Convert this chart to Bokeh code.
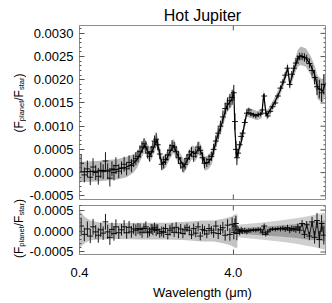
import numpy as np
from bokeh.plotting import figure
from bokeh.models import (Range1d, FixedTicker, SingleIntervalTicker,
                          PrintfTickFormatter)
from bokeh.core.properties import value
from bokeh.layouts import column, row
from bokeh.embed import file_html
from bokeh.resources import INLINE

# ---------------- data ----------------
title_text = "Hot Jupiter"
x_label = "Wavelength (\u03bcm)"
x_ticks = [0.4, 4.0]
y_ticks_top = [-0.0005, 0.0, 0.0005, 0.0010, 0.0015, 0.0020, 0.0025, 0.0030]
y_ticks_res = [-0.0005, 0.0, 0.0005]
ylabel_main = ["(F", "/F", ")"]
ylabel_sub = ["planet", "star"]

# best-fit model spectrum (planet/star flux ratio)
model_wl = [0.40, 0.45, 0.52, 0.60, 0.70, 0.81, 0.90, 0.95, 1.00, 1.06,
            1.10, 1.15, 1.20, 1.27, 1.32, 1.37, 1.45, 1.55, 1.64, 1.75,
            1.91, 2.02, 2.15, 2.27, 2.39, 2.50, 2.61, 2.75, 2.90, 3.13,
            3.37, 3.63, 3.91, 4.03, 4.10, 4.21, 4.35, 4.54, 4.70, 4.90,
            5.28, 5.69, 6.13, 6.31, 6.45, 6.60, 7.33, 8.02, 8.64, 9.04,
            9.31, 10.03, 10.49, 10.97, 11.83, 12.75, 13.53, 14.15, 15.25, 15.95]
model_flux = [0.00001, 0.00002, 0.00003, 0.00005, 0.00007, 0.00012, 0.0002, 0.00029, 0.00042, 0.0006,
              0.00048, 0.00037, 0.0005, 0.00071, 0.00045, 0.00019, 0.00025, 0.00045, 0.00058, 0.00035,
              0.00013, 0.00028, 0.00044, 0.0004, 0.00054, 0.0004, 0.00019, 0.00022, 0.00033, 0.00075,
              0.00106, 0.00144, 0.00158, 0.00175, 0.0009, 0.00033, 0.0005, 0.0007, 0.001, 0.0013,
              0.00127, 0.00123, 0.00127, 0.00169, 0.0014, 0.00123, 0.00148, 0.00175, 0.00204, 0.00225,
              0.0019, 0.00227, 0.00246, 0.00252, 0.00248, 0.00231, 0.0021, 0.00183, 0.00175, 0.00194]
model_sigma = [0.00022, 0.00022, 0.00022, 0.00022, 0.00022, 0.00022, 0.0002, 0.00018, 0.00015, 0.00015,
               0.00015, 0.00015, 0.00015, 0.00015, 0.00015, 0.00015, 0.00015, 0.00015, 0.00015, 0.00015,
               0.00015, 0.00015, 0.00015, 0.00015, 0.00015, 0.00015, 0.00015, 0.00015, 0.00015, 0.00015,
               0.00015, 0.00015, 0.00015, 0.00015, 0.00015, 0.00015, 0.00012, 0.0001, 0.0001, 0.0001,
               0.0001, 0.0001, 0.0001, 0.0001, 0.0001, 0.0001, 0.0001, 0.0001, 0.00011, 0.00012,
               0.00012, 0.00015, 0.00018, 0.0002, 0.0002, 0.0002, 0.0002, 0.00025, 0.00025, 0.00025]

# observations, short-wavelength part (dense)
obs_wl_a = [0.41, 0.43, 0.45, 0.47, 0.49, 0.51, 0.53, 0.55, 0.57, 0.59,
            0.61, 0.63, 0.65, 0.67, 0.69, 0.72, 0.75, 0.78, 0.81, 0.84,
            0.87, 0.90, 0.93, 0.96, 0.99, 1.02, 1.05, 1.08, 1.11, 1.14,
            1.17, 1.20, 1.23, 1.26, 1.29, 1.33, 1.37, 1.41, 1.45, 1.50,
            1.55, 1.60, 1.65, 1.70, 1.76, 1.82, 1.88, 1.94, 2.00, 2.07,
            2.14, 2.21, 2.28, 2.36, 2.44, 2.52, 2.60, 2.69, 2.78, 2.88,
            2.98, 3.08, 3.19, 3.30, 3.42, 3.54, 3.67, 3.80, 3.93, 4.03,
            4.10, 4.16, 4.22]
obs_flux_a = [0.0002, -0.00005, 0.00008, -0.0001, 0.00012, 0.0, -0.00008, 0.00005, 0.00002, 0.00025,
              0.00003, -0.00012, 0.00008, 0.0, 0.00015, 0.00003, 0.0001, 0.00018, 0.00008, 0.00022,
              0.00015, 0.00025, 0.0003, 0.00035, 0.00045, 0.00055, 0.00062, 0.00055, 0.00042, 0.00035,
              0.00045, 0.00055, 0.00068, 0.00072, 0.0006, 0.0004, 0.00018, 0.00022, 0.00028, 0.00038,
              0.00048, 0.00058, 0.00055, 0.00045, 0.00032, 0.0002, 0.00012, 0.00018, 0.0003, 0.00038,
              0.00045, 0.00035, 0.00042, 0.00055, 0.00048, 0.00032, 0.0002, 0.00022, 0.00028, 0.00035,
              0.0005, 0.00068, 0.00085, 0.001, 0.0012, 0.00138, 0.00148, 0.00155, 0.00162, 0.00172,
              0.0011, 0.0005, 0.00032]
obs_err_a = [0.0002, 0.00016, 0.00018, 0.00017, 0.00019, 0.00016, 0.00018, 0.00017, 0.00016, 0.00019,
             0.00017, 0.00018, 0.00016, 0.00017, 0.00018, 0.00015, 0.00014, 0.00016, 0.00014, 0.00015,
             0.00014, 0.00013, 0.00014, 0.00013, 0.00014, 0.00013, 0.00012, 0.00013, 0.00012, 0.00011,
             0.00012, 0.00013, 0.00012, 0.00014, 0.00012, 0.00011, 0.00012, 0.00013, 0.00011, 0.00012,
             0.00013, 0.00012, 0.00011, 0.00012, 0.00013, 0.00012, 0.00011, 0.00012, 0.0001, 0.00011,
             0.0001, 0.00012, 0.0001, 0.00011, 0.0001, 0.00012, 0.00011, 0.0001, 0.00011, 0.0001,
             0.00012, 0.00012, 0.00013, 0.00012, 0.00014, 0.00013, 0.00014, 0.00015, 0.00016, 0.00017,
             0.00018, 0.00018, 0.00016]
res_a = [0.00012, -0.00008, 0.00005, -0.00012, 0.0001, -0.00002, -0.0001, 0.00003, -0.00005, 0.00022,
         -0.00002, -0.00015, 0.00004, -0.00006, 0.0001, -0.00004, 0.00003, 0.0001, -0.00004, 0.00009,
         -0.00002, 0.00005, 0.00002, 0.00006, 0.00004, -0.00003, 0.00006, 0.0001, -0.00004, -0.00002,
         0.00005, 0.00003, 0.00008, 0.00002, 0.00004, -0.00005, -0.00001, -0.00003, 0.00006, -0.00008,
         0.00002, 0.00007, -0.00003, 0.00009, -0.00004, 0.00005, -0.00006, 0.00003, 0.00008, 0.00002,
         -0.00009, 0.00006, -0.00005, 0.0001, -0.00012, 0.00004, 0.00001, -0.00007, 0.00006, 0.00002,
         -0.00004, 0.00012, -0.00006, 0.00003, 0.00008, -0.0001, 0.00014, -0.00008, 0.00016, -0.00003,
         0.00012, 0.00018, -0.00006]

# observations, long-wavelength part (sparser)
obs_wl_b = [4.30, 4.40, 4.50, 4.60, 4.75, 4.90, 5.05, 5.20, 5.40, 5.60,
            5.80, 6.00, 6.20, 6.35, 6.50, 6.70, 6.95, 7.20, 7.50, 7.80,
            8.10, 8.40, 8.70, 9.00, 9.30, 9.60, 9.90, 10.2, 10.5, 10.8,
            11.2, 11.6, 12.0, 12.5, 13.0, 13.5, 14.0, 14.5, 15.0, 15.5]
obs_flux_b = [0.00042, 0.0006, 0.00078, 0.00085, 0.00108, 0.00128, 0.00135, 0.00126, 0.00124, 0.00122,
              0.00125, 0.00126, 0.00135, 0.00165, 0.00128, 0.00122, 0.00132, 0.00142, 0.0015, 0.00165,
              0.00182, 0.00195, 0.0021, 0.00225, 0.0019, 0.00212, 0.00225, 0.00236, 0.00245, 0.0025,
              0.0025, 0.00248, 0.00245, 0.00235, 0.0022, 0.00205, 0.00185, 0.0018, 0.00172, 0.0019]
obs_err_b = [0.00008, 0.00008, 0.00008, 0.00007, 0.00007, 0.00006, 0.00005, 0.00005, 0.00005, 0.00005,
             0.00005, 0.00005, 0.00006, 0.00006, 0.00005, 0.00005, 0.00005, 0.00005, 0.00005, 0.00005,
             0.00006, 0.00006, 0.00006, 0.00007, 0.00007, 0.00007, 0.00007, 0.00007, 0.00008, 0.00008,
             0.00008, 0.00009, 0.00009, 0.0001, 0.00012, 0.00015, 0.00018, 0.0002, 0.0002, 0.00022]
res_b = [0.00003, -0.00002, 0.00002, 0.0, 0.00001, -0.00002, 0.00002, 0.00001, 0.00003, 0.00002,
         0.00004, 0.00003, -0.00004, 0.00012, -0.00008, -0.00002, 0.00003, 0.00005, 0.00004, 0.00006,
         0.00005, 0.00007, 0.00004, 0.00008, 0.00002, 0.00006, 0.00005, 0.00003, 0.0001, 0.00002,
         0.00018, -0.00008, 0.00015, -0.00012, 0.00022, -0.00015, 0.00025, -0.0002, 0.00018, -0.0001]

# residual-panel uncertainty envelopes
env_wl_a = [0.40, 0.43, 0.47, 0.55, 0.70, 1.0, 1.5, 2.0, 2.5, 3.0, 3.5, 3.9, 4.1, 4.25]
env_hi_a = [0.0005, 0.00035, 0.00025, 0.0002, 0.00019, 0.0002, 0.0002, 0.00022, 0.00025, 0.00025,
            0.0003, 0.00035, 0.0004, 0.0004]
env_lo_a = [-0.0004, -0.0003, -0.00022, -0.0002, -0.00019, -0.0002, -0.0002, -0.00022, -0.00025,
            -0.00025, -0.0003, -0.00035, -0.0004, -0.0004]
env_wl_b = [4.25, 6.0, 8.0, 10.0, 12.0, 14.0, 15.95]
env_wide_b = [0.00015, 0.0002, 0.00025, 0.0003, 0.00035, 0.0004, 0.00045]
env_narrow_b = [0.00006, 0.0001, 0.00013, 0.00016, 0.0002, 0.00022, 0.00025]

# ---------------- layout constants (pixels) ----------------
FONT = "Liberation Sans"
STRIP_W = 26
FRAME_LEFT = 78
BORDER_R = 4
FRAME_TOP = 25
FRAME_W = 246
FH1, FH2 = 174, 49
XR = (0.4, 15.9)
YR1 = (-0.00058, 0.00317)
YR2 = (-0.00056, 0.00061)
TICK_IN, MINOR_IN = 5, 2
TOTAL_H = 303
AXIS_COL = "#555555"
FRAME_COL = "#8c8c8c"


def style_axis(ax):
    ax.axis_line_color = FRAME_COL
    ax.major_tick_line_color = AXIS_COL
    ax.minor_tick_line_color = AXIS_COL
    ax.major_tick_in = TICK_IN
    ax.major_tick_out = 0
    ax.minor_tick_in = MINOR_IN
    ax.minor_tick_out = 0
    ax.major_label_text_font = FONT
    ax.major_label_text_font_size = "13px"
    ax.major_label_text_color = "black"


def crosses(p, wl, val, err, hw=1.045, color="black", width=1.0, alpha=0.9):
    wl = np.asarray(wl)
    val = np.asarray(val)
    err = np.asarray(err)
    p.segment(x0=wl, y0=val - err, x1=wl, y1=val + err, line_color=color,
              line_width=width, line_alpha=alpha)
    p.segment(x0=wl / hw, y0=val, x1=wl * hw, y1=val, line_color=color,
              line_width=width, line_alpha=alpha)


def x_edge_ticks(p, yr, fh, top=True, bottom=True):
    tl = TICK_IN * (yr[1] - yr[0]) / fh
    xs, y0s, y1s = [], [], []
    for t in x_ticks[1:]:
        if top:
            xs.append(t); y0s.append(yr[1]); y1s.append(yr[1] - tl)
        if bottom:
            xs.append(t); y0s.append(yr[0]); y1s.append(yr[0] + tl)
    p.segment(x0=xs, x1=xs, y0=y0s, y1=y1s, line_color=AXIS_COL, line_width=1)


def right_edge_ticks(p, ticks, yr):
    px_per_dec = FRAME_W / np.log10(XR[1] / XR[0])
    ys, xin = [], []
    step = ticks[1] - ticks[0]
    for t in ticks:
        ys.append(t); xin.append(XR[1] / 10 ** (TICK_IN / px_per_dec))
    for t in [ticks[0] - step] + list(ticks):
        for k in range(1, 5):
            v = t + k * step / 5
            if yr[0] < v < yr[1]:
                ys.append(v); xin.append(XR[1] / 10 ** (MINOR_IN / px_per_dec))
    p.segment(x0=[XR[1]] * len(ys), x1=xin, y0=ys, y1=ys, line_color=AXIS_COL, line_width=1)


def make_panel(yr, fh, border_top, border_bottom):
    p = figure(x_axis_type="log", x_range=Range1d(*XR), y_range=Range1d(*yr),
               frame_width=FRAME_W, frame_height=fh, min_border_left=FRAME_LEFT - STRIP_W,
               min_border_right=BORDER_R, min_border_top=border_top,
               min_border_bottom=border_bottom, output_backend="svg",
               toolbar_location=None)
    p.outline_line_color = FRAME_COL
    p.grid.visible = False
    p.yaxis.ticker = SingleIntervalTicker(interval=0.0005, num_minor_ticks=5)
    p.yaxis.formatter = PrintfTickFormatter(format="%.4f")
    for ax in p.axis:
        style_axis(ax)
    p.yaxis.major_label_standoff = 6
    return p


# ---------------- top panel ----------------
p1 = make_panel(YR1, FH1, FRAME_TOP, 3)
p1.title.text = title_text
p1.title.align = "center"
p1.title.text_font = FONT
p1.title.text_font_size = "16px"
p1.title.text_font_style = "normal"
p1.title.text_color = "black"
p1.title.standoff = 4
p1.title.offset = 0
p1.xaxis.visible = False
x_edge_ticks(p1, YR1, FH1)
right_edge_ticks(p1, y_ticks_top, YR1)

mw = np.asarray(model_wl)
mf = np.asarray(model_flux)
ms = np.asarray(model_sigma)
p1.varea(x=mw, y1=mf - ms, y2=mf + ms, fill_color="#b8b8b8", fill_alpha=1.0)
crosses(p1, obs_wl_a, obs_flux_a, obs_err_a)
crosses(p1, obs_wl_b, obs_flux_b, obs_err_b)
p1.line(mw, mf, line_color="black", line_width=1.2)

# ---------------- residual panel ----------------
p2 = make_panel(YR2, FH2, 3, 10)
p2.xaxis.ticker = FixedTicker(ticks=x_ticks)
p2.xaxis.formatter = PrintfTickFormatter(format="%.1f")
p2.xaxis.axis_label = x_label
p2.xaxis.major_label_standoff = 13
p2.xaxis.axis_label_standoff = 5
p2.xaxis.axis_label_text_font = FONT
p2.xaxis.axis_label_text_font_size = "13px"
p2.xaxis.axis_label_text_font_style = "normal"
p2.xaxis.axis_label_text_color = "black"
x_edge_ticks(p2, YR2, FH2, top=True, bottom=False)
right_edge_ticks(p2, y_ticks_res, YR2)

p2.varea(x=env_wl_a, y1=env_lo_a, y2=env_hi_a, fill_color="#c4c4c4")
ew = np.asarray(env_wide_b)
en = np.asarray(env_narrow_b)
p2.varea(x=env_wl_b, y1=-ew, y2=ew, fill_color="#cfcfcf")
p2.varea(x=env_wl_b, y1=-en, y2=en, fill_color="#9e9e9e")
crosses(p2, obs_wl_a, res_a, obs_err_a)
crosses(p2, obs_wl_b, res_b, obs_err_b)
p2.line(obs_wl_b, res_b, line_color="black", line_width=0.8)

# ---------------- y-label strip (rotated, with subscripts) ----------------
strip = figure(width=STRIP_W, height=TOTAL_H, x_range=Range1d(0, STRIP_W),
               y_range=Range1d(0, TOTAL_H), x_axis_type=None, y_axis_type=None,
               min_border=0, output_backend="svg", toolbar_location=None)
strip.outline_line_color = None
strip.grid.visible = False
main_off = [0.0, 31.7, 54.9]
sub_off = [11.3, 42.4]
for start in (132.0, 257.5):
    base = TOTAL_H - start
    strip.text(x=[18.5] * 3, y=[base + o for o in main_off], text=ylabel_main,
               angle=np.pi / 2, text_align="left", text_baseline="alphabetic",
               text_font=value(FONT), text_font_size=value("12px"), text_color="black")
    strip.text(x=[21.0] * 2, y=[base + o for o in sub_off], text=ylabel_sub,
               angle=np.pi / 2, text_align="left", text_baseline="alphabetic",
               text_font=value(FONT), text_font_size=value("7.5px"), text_color="black")

layout = row(strip, column(p1, p2, spacing=0), spacing=0)
open("out.html", "w").write(file_html(layout, INLINE))
